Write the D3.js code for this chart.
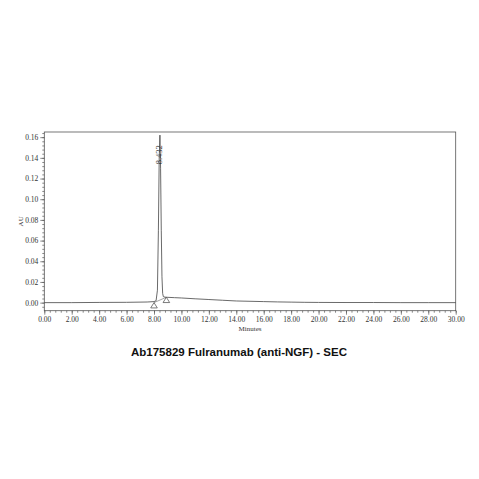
<!DOCTYPE html>
<html><head><meta charset="utf-8">
<script src="https://cdn.jsdelivr.net/npm/d3@7"></script>
<style>body{margin:0;background:#fff;} svg{display:block;}</style>
</head><body>
<script>
const timeMin = [0, 2, 4, 6, 7.5, 8.0, 8.15, 8.25, 8.32, 8.38, 8.432, 8.48, 8.53, 8.58, 8.63, 8.68, 8.8, 8.9, 9.5, 10, 11, 12, 13, 14, 15, 16, 17, 18, 19, 20, 22, 24, 26, 28, 30];
const absAU  = [0, 0, 0.0002, 0.0003, 0.0006, 0.001, 0.0018, 0.012, 0.07, 0.14, 0.162, 0.13, 0.07, 0.025, 0.009, 0.0058, 0.0053, 0.0052, 0.0048, 0.0045, 0.0037, 0.003, 0.0023, 0.0016, 0.0013, 0.001, 0.0007, 0.0005, 0.0003, 0.0002, 0.0001, 0.0001, 0, 0, 0];
const xTicks = d3.range(0, 30.001, 2);
const yTicks = d3.range(0, 0.1601, 0.02);
const peakLabel = "8.432";
const peakTime = 8.432;
const markTimes = [8.0, 8.9];
const markAbs = [0.0, 0.0052];
const titleText = "Ab175829 Fulranumab (anti-NGF) - SEC";
const xLabel = "Minutes", yLabel = "AU";

const W = 479, H = 479;
const L = 44.3, R = 455.7, T = 132, B = 310.7;
const svg = d3.select("body").append("svg").attr("width", W).attr("height", H);
const x = d3.scaleLinear().domain([0, 30]).range([L, R]);
const y = d3.scaleLinear().domain([-0.0078, 0.165]).range([B, T]);
const axisColor = "#555";
const serif = "'Liberation Serif','DejaVu Serif',serif";
const tickFont = "7.5px";

// frame
svg.append("rect").attr("x", L).attr("y", T).attr("width", R - L).attr("height", B - T)
  .attr("fill", "none").attr("stroke", axisColor).attr("stroke-width", 0.8);

// x axis
const xMinor = d3.range(0, 30.001, 0.4);
const gxm = svg.append("g").attr("transform", `translate(0,${B})`)
  .call(d3.axisBottom(x).tickValues(xMinor).tickSize(2).tickFormat(""));
const gx = svg.append("g").attr("transform", `translate(0,${B})`)
  .call(d3.axisBottom(x).tickValues(xTicks).tickSize(4).tickFormat(d3.format(".2f")).tickPadding(2));
// y axis
const yMinor = d3.range(-0.004, 0.1641, 0.004);
const gym = svg.append("g").attr("transform", `translate(${L},0)`)
  .call(d3.axisLeft(y).tickValues(yMinor).tickSize(2).tickFormat(""));
const gy = svg.append("g").attr("transform", `translate(${L},0)`)
  .call(d3.axisLeft(y).tickValues(yTicks).tickSize(4).tickFormat(d3.format(".2f")).tickPadding(2));
[gxm, gx, gym, gy].forEach(g => {
  g.select(".domain").remove();
  g.selectAll("line").attr("stroke", axisColor).attr("stroke-width", 0.7);
  g.selectAll("text").attr("fill", "#333").style("font-family", serif).style("font-size", tickFont);
});

svg.append("text").attr("x", (L + R) / 2).attr("y", 331).attr("text-anchor", "middle")
  .attr("fill", "#333").style("font-family", serif).style("font-size", "7px").text(xLabel);
svg.append("text").attr("transform", `translate(23,${(T + B) / 2}) rotate(-90)`)
  .attr("text-anchor", "middle").attr("fill", "#333").style("font-family", serif)
  .style("font-size", "7px").text(yLabel);

// trace
const pts = timeMin.map((t, i) => [t, absAU[i]]);
const line = d3.line().x(d => x(d[0])).y(d => y(d[1]));
svg.append("path").datum(pts).attr("d", line).attr("fill", "none")
  .attr("stroke", "#444").attr("stroke-width", 0.8);

// baseline between markers
svg.append("line").attr("x1", x(markTimes[0])).attr("y1", y(markAbs[0]))
  .attr("x2", x(markTimes[1])).attr("y2", y(markAbs[1]))
  .attr("stroke", "#666").attr("stroke-width", 0.6);

// triangles
markTimes.forEach((t, i) => {
  const cx = x(t), cy = y(markAbs[i]);
  svg.append("path").attr("d", `M${cx},${cy} L${cx - 3.3},${cy + 5.3} L${cx + 3.3},${cy + 5.3} Z`)
    .attr("fill", "#fff").attr("stroke", "#444").attr("stroke-width", 0.7);
});

// peak label
svg.append("text").attr("transform", `translate(${x(peakTime) + 2.5},${y(0.143)}) rotate(-90)`)
  .attr("text-anchor", "middle").attr("fill", "#333").style("font-family", serif)
  .style("font-size", "8.5px").text(peakLabel);

// title
svg.append("text").attr("x", 239).attr("y", 356).attr("text-anchor", "middle")
  .attr("fill", "#111").style("font-family", "'Liberation Sans',Arial,sans-serif")
  .style("font-weight", "bold").style("font-size", "11.5px").text(titleText);
</script>
</body></html>
